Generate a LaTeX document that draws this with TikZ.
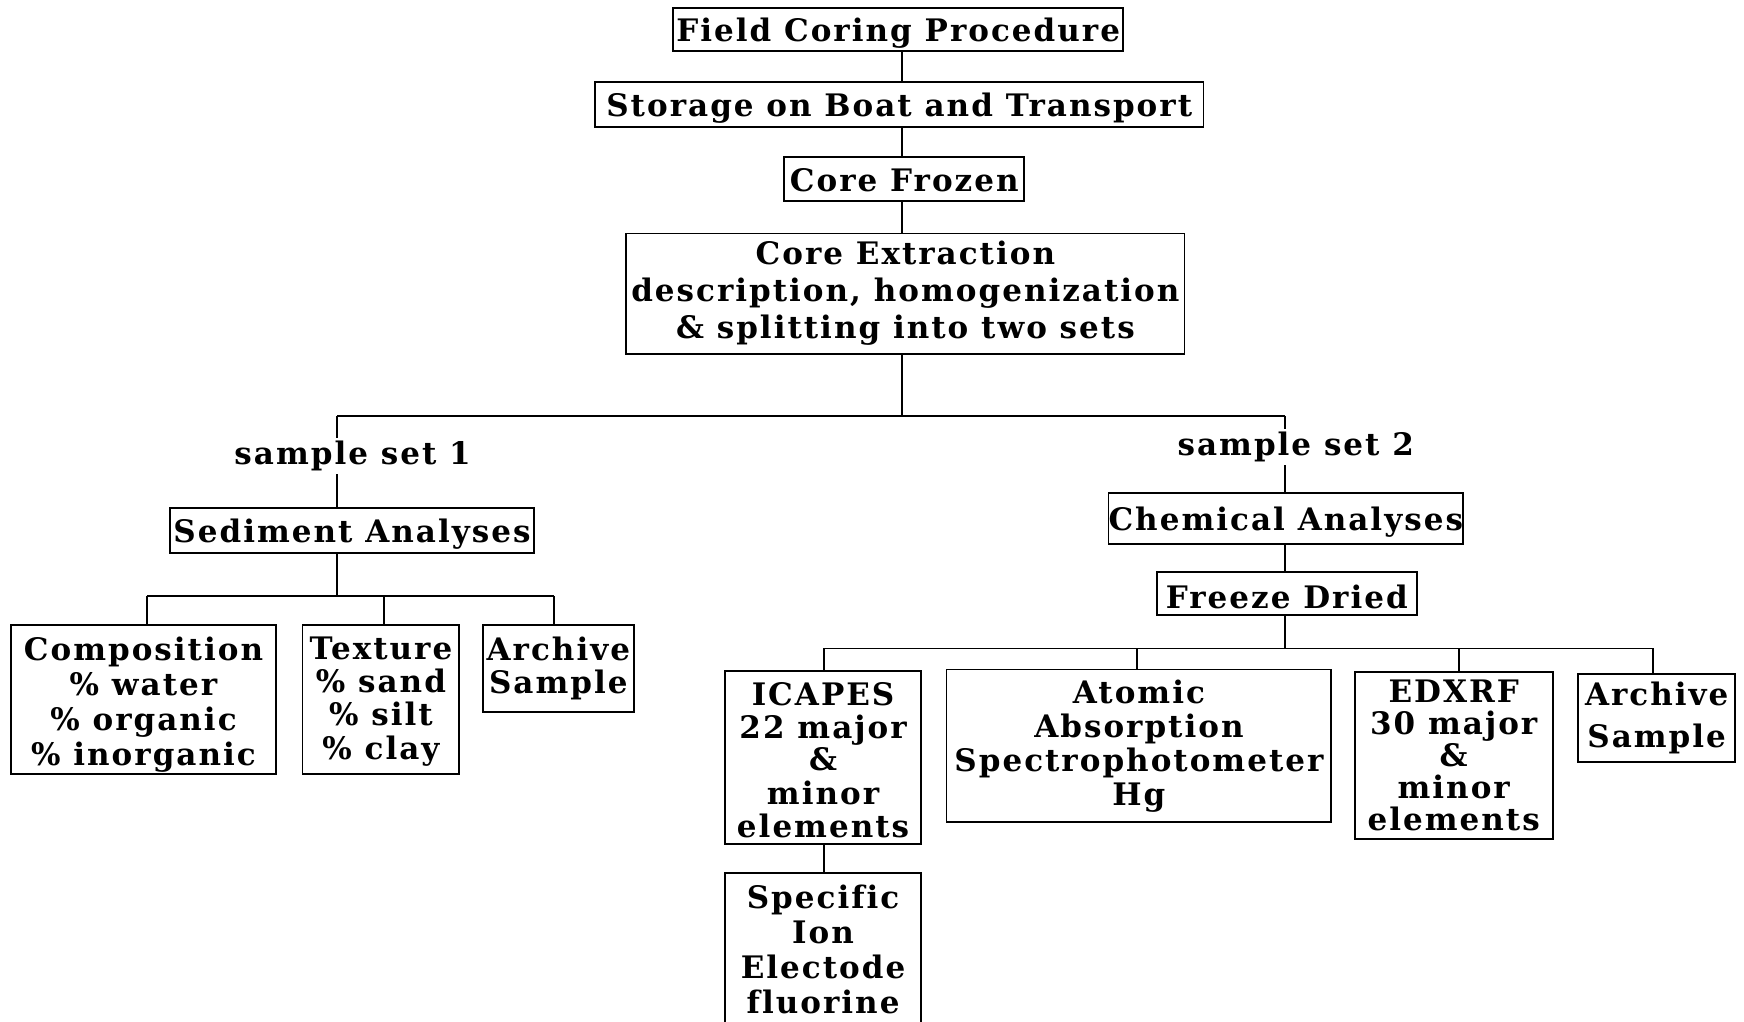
\documentclass[tikz,border=0pt]{standalone}
\usepackage{fontspec}
\setmainfont{DejaVu Serif}[LetterSpace=6.5, Ligatures=NoCommon]
\newcommand\lowr[2][4pt]{\raisebox{-#1}[\height][\depth]{#2}}
\begin{document}
\begin{tikzpicture}[x=1.1122pt,y=-1.1122pt,
  box/.style={draw, line width=1.8pt, inner sep=0pt, align=center, font=\bfseries\fontsize{31}{35}\selectfont},
  wh/.style 2 args={minimum width=#1*1.1122pt, minimum height=#2*1.1122pt},
  lbl/.style={inner sep=3pt, font=\bfseries\fontsize{31}{35}\selectfont},
  conn/.style={line width=1.8pt}]
\useasboundingbox (0,0) rectangle (1568,918);
% top chain
\node[box, wh={405}{39}] (field) at (807.5,26.5) {\lowr{Field Coring Procedure}};
\node[box, wh={547}{40}] (storage) at (808.5,94) {\lowr{Storage on Boat and Transport}};
\node[box, wh={216}{40}] (frozen) at (813,161) {\lowr[1pt]{Core Frozen}};
\node[box, wh={502}{108}, font=\bfseries\fontsize{31}{37}\selectfont] (extract) at (814,264) {Core Extraction\\description, homogenization\\\& splitting into two sets};
\coordinate (sp) at (811,0);
\coordinate (j) at (811,374);
\coordinate (jl) at (303,374);
\coordinate (jr) at (1155,374);
\node[lbl] (set1) at (317,410) {sample set 1};
\node[lbl] (set2) at (1165,402) {sample set 2};
% left branch
\node[box, wh={327}{40}] (sed) at (316.5,477) {\lowr{Sediment Analyses}};
\coordinate (js) at (303,536);
\coordinate (d1) at (132,536);
\coordinate (d2) at (345,536);
\coordinate (d3) at (498,536);
\node[box, wh={238}{134}] (comp) at (129,629) {\lowr[6pt]{\begin{tabular}{@{}c@{}}Composition\\\% water\\\% organic\\\% inorganic\end{tabular}}};
\node[box, wh={141}{134}, font=\bfseries\fontsize{31}{33}\selectfont] (tex) at (342.5,629) {\lowr[3pt]{\begin{tabular}{@{}c@{}}Texture\\\% sand\\\% silt\\\% clay\end{tabular}}};
\node[box, wh={136}{78}, font=\bfseries\fontsize{31}{33}\selectfont] (arch1) at (502,601) {Archive\\Sample};
% right branch
\node[box, wh={318}{46}] (chem) at (1156,466) {\lowr{Chemical Analyses}};
\node[box, wh={234}{39}] (freeze) at (1157,533.5) {\lowr{Freeze Dried}};
\coordinate (jf) at (1155,583);
\coordinate (e1) at (741,583);
\coordinate (e2) at (1022,583);
\coordinate (e3) at (1312,583);
\coordinate (e4) at (1486,583);
\node[box, wh={176}{156}, font=\bfseries\fontsize{31}{32}\selectfont] (icp) at (740,681) {\lowr[7pt]{\begin{tabular}{@{}c@{}}ICAPES\\22 major\\\&\\minor\\elements\end{tabular}}};
\node[box, wh={346}{137}, font=\bfseries\fontsize{31}{34}\selectfont] (aas) at (1024,670.5) {Atomic\\Absorption\\Spectrophotometer\\Hg};
\node[box, wh={178}{150}, font=\bfseries\fontsize{31}{32}\selectfont] (edx) at (1307,679) {EDXRF\\30 major\\\&\\minor\\elements};
\node[box, wh={141}{79}, font=\bfseries\fontsize{31}{42}\selectfont] (arch2) at (1489.5,645.5) {Archive\\Sample};
\node[box, wh={176}{137}] (sie) at (740,853.5) {Specific\\Ion\\Electode\\fluorine};
% connectors
\draw[conn] (field.south -| sp) -- (storage.north -| sp);
\draw[conn] (storage.south -| sp) -- (frozen.north -| sp);
\draw[conn] (frozen.south -| sp) -- (extract.north -| sp);
\draw[conn] (extract.south -| sp) -- (j);
\draw[conn] (jl) -- (jr);
\draw[conn] (jl) -- (jl |- set1.north);
\draw[conn] (set1.south -| jl) -- (sed.north -| jl);
\draw[conn] (jr) -- (jr |- set2.north);
\draw[conn] (set2.south -| jr) -- (chem.north -| jr);
\draw[conn] (sed.south -| js) -- (js);
\draw[conn] (d1) -- (d3);
\draw[conn] (d1) -- (comp.north -| d1);
\draw[conn] (d2) -- (tex.north -| d2);
\draw[conn] (d3) -- (arch1.north -| d3);
\draw[conn] (chem.south -| jr) -- (freeze.north -| jr);
\draw[conn] (freeze.south -| jf) -- (jf);
\draw[conn] (e1) -- (e4);
\draw[conn] (e1) -- (icp.north -| e1);
\draw[conn] (e2) -- (aas.north -| e2);
\draw[conn] (e3) -- (edx.north -| e3);
\draw[conn] (e4) -- (arch2.north -| e4);
\draw[conn] (icp.south -| e1) -- (sie.north -| e1);
\end{tikzpicture}
\end{document}
